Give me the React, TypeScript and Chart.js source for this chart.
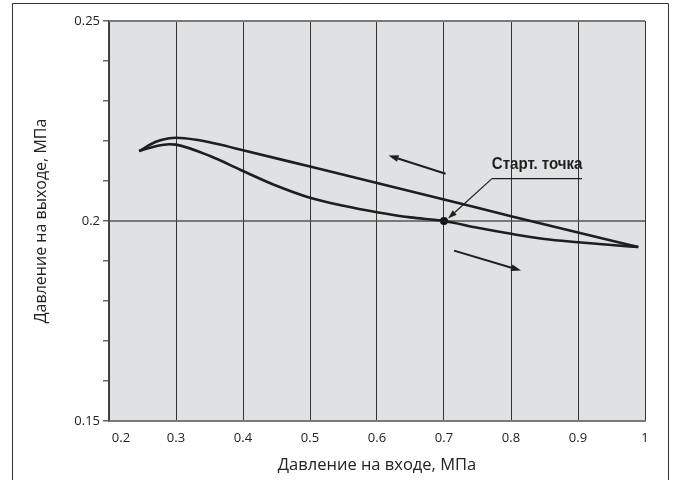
import React, { useEffect, useRef } from 'react';
import { Chart, registerables } from 'chart.js';

Chart.register(...registerables);

// Upper branch (pressure decreasing, arrow to the left)
const upperX = [0.245, 0.27, 0.29, 0.30, 0.33, 0.36, 0.40, 0.50, 0.60, 0.70, 0.80, 0.90, 0.99];
const upperY = [0.2175, 0.2198, 0.2207, 0.2208, 0.2203, 0.2193, 0.2177, 0.2136, 0.2095, 0.2054, 0.2012, 0.1971, 0.1935];

// Lower branch (pressure increasing, arrow to the right)
const lowerX = [0.245, 0.27, 0.29, 0.30, 0.35, 0.40, 0.45, 0.50, 0.55, 0.60, 0.65, 0.70, 0.75, 0.80, 0.85, 0.90, 0.95, 0.99];
const lowerY = [0.2175, 0.2187, 0.2192, 0.2191, 0.2163, 0.2125, 0.2088, 0.2058, 0.2038, 0.2022, 0.2009, 0.2000, 0.1983, 0.1968, 0.1955, 0.1947, 0.1940, 0.1935];

// Start point
const startX = [0.7];
const startY = [0.2];

// Axis ticks
const xTickValues = [0.2, 0.3, 0.4, 0.5, 0.6, 0.7, 0.8, 0.9, 1.0];
const xTickLabels = ['0.2', '0.3', '0.4', '0.5', '0.6', '0.7', '0.8', '0.9', '1'];
const yTickValues = [0.15, 0.2, 0.25];
const yTickLabels = ['0.15', '0.2', '0.25'];
const yRefLine = 0.2;

// Direction arrows [x0, y0, x1, y1] (data units, arrowhead at x1,y1)
const arrowUpper = [0.7024, 0.2118, 0.6172, 0.2164];
const arrowLower = [0.715, 0.1926, 0.815, 0.1876];
// Leader for annotation: underline start/end, then to the point
const leaderLine = [0.7716, 0.2106, 0.706, 0.2006];
const underline = [0.7716, 0.906, 0.2106];
const annotationText = 'Старт. точка';
const annotationPos = [0.839, 0.2140];

const xTitle = 'Давление на входе, МПа';
const yTitle = 'Давление на выходе, МПа';

const toXY = (xs: number[], ys: number[]) => xs.map((x, i) => ({ x, y: ys[i] }));

const FONT = '"Open Sans", "DejaVu Sans", sans-serif';

function drawArrow(ctx: CanvasRenderingContext2D, x0: number, y0: number, x1: number, y1: number, lw: number, headLen: number, headW: number) {
  const ang = Math.atan2(y1 - y0, x1 - x0);
  const bx = x1 - headLen * Math.cos(ang);
  const by = y1 - headLen * Math.sin(ang);
  ctx.lineWidth = lw;
  ctx.beginPath();
  ctx.moveTo(x0, y0);
  ctx.lineTo(bx, by);
  ctx.stroke();
  ctx.beginPath();
  ctx.moveTo(x1, y1);
  ctx.lineTo(bx + headW * Math.sin(ang), by - headW * Math.cos(ang));
  ctx.lineTo(bx - headW * Math.sin(ang), by + headW * Math.cos(ang));
  ctx.closePath();
  ctx.fill();
}

const decorPlugin = {
  id: 'decor',
  beforeDraw(chart: any) {
    const { ctx, chartArea: a } = chart;
    ctx.save();
    ctx.fillStyle = '#e0e1e2';
    ctx.fillRect(a.left, a.top, a.right - a.left, a.bottom - a.top);
    ctx.restore();
  },
  beforeDatasetsDraw(chart: any) {
    const { ctx, chartArea: a, scales } = chart;
    const y = scales.y.getPixelForValue(yRefLine);
    ctx.save();
    ctx.strokeStyle = '#555';
    ctx.lineWidth = 1.5;
    ctx.beginPath();
    ctx.moveTo(a.left, y);
    ctx.lineTo(a.right, y);
    ctx.stroke();
    ctx.restore();
  },
  afterDatasetsDraw(chart: any) {
    const { ctx, chartArea: a, scales } = chart;
    const xs = scales.x;
    const ys = scales.y;
    const px = (v: number) => xs.getPixelForValue(v);
    const py = (v: number) => ys.getPixelForValue(v);
    ctx.save();
    // top border of plot
    ctx.strokeStyle = '#7a7a7a';
    ctx.lineWidth = 2;
    ctx.beginPath();
    ctx.moveTo(a.left, a.top);
    ctx.lineTo(a.right, a.top);
    ctx.stroke();

    ctx.strokeStyle = '#1e1e1e';
    ctx.fillStyle = '#1e1e1e';
    drawArrow(ctx, px(arrowUpper[0]), py(arrowUpper[1]), px(arrowUpper[2]), py(arrowUpper[3]), 2, 10, 3.5);
    drawArrow(ctx, px(arrowLower[0]), py(arrowLower[1]), px(arrowLower[2]), py(arrowLower[3]), 2, 10, 3.5);

    // underline + leader
    ctx.lineWidth = 1.2;
    ctx.beginPath();
    ctx.moveTo(px(underline[1]), py(underline[2]));
    ctx.lineTo(px(underline[0]), py(underline[2]));
    ctx.stroke();
    drawArrow(ctx, px(leaderLine[0]), py(leaderLine[1]), px(leaderLine[2]), py(leaderLine[3]), 1.2, 9, 3);

    // annotation text (condensed bold)
    ctx.font = 'bold 16px "Liberation Sans Narrow", "Arial Narrow", "Liberation Sans", sans-serif';
    ctx.textAlign = 'center';
    ctx.textBaseline = 'middle';
    ctx.save();
    ctx.translate(px(annotationPos[0]), py(annotationPos[1]));
    ctx.scale(0.94, 1);
    ctx.fillText(annotationText, 0, 0);
    ctx.restore();

    // x tick labels
    ctx.font = '13px ' + FONT;
    ctx.fillStyle = '#222';
    ctx.textAlign = 'center';
    ctx.textBaseline = 'middle';
    xTickValues.forEach((v, i) => {
      const off = i === 0 ? 12 : 0;
      ctx.fillText(xTickLabels[i], px(v) + off, a.bottom + 17);
    });
    ctx.restore();
  },
  afterDraw(chart: any) {
    const { ctx } = chart;
    ctx.save();
    ctx.strokeStyle = '#333';
    ctx.lineWidth = 1;
    ctx.beginPath();
    ctx.moveTo(12.5, 480);
    ctx.lineTo(12.5, 3.5);
    ctx.lineTo(668.5, 3.5);
    ctx.lineTo(668.5, 480);
    ctx.stroke();
    ctx.restore();
  },
};

export default function App() {
  const ref = useRef<HTMLCanvasElement | null>(null);
  useEffect(() => {
    if (!ref.current) return;
    const near = (a: number, b: number) => Math.abs(a - b) < 1e-6;
    const chart = new Chart(ref.current, {
      type: 'line',
      data: {
        datasets: [
          {
            data: toXY(upperX, upperY),
            borderColor: '#1e1e1e',
            borderWidth: 2.6,
            pointRadius: 0,
            cubicInterpolationMode: 'monotone',
            fill: false,
          },
          {
            data: toXY(lowerX, lowerY),
            borderColor: '#1e1e1e',
            borderWidth: 2.6,
            pointRadius: 0,
            cubicInterpolationMode: 'monotone',
            fill: false,
          },
          {
            data: toXY(startX, startY),
            borderColor: '#111',
            backgroundColor: '#111',
            showLine: false,
            pointRadius: 4,
            pointBorderWidth: 0,
          },
        ],
      },
      options: {
        animation: false,
        responsive: false,
        maintainAspectRatio: false,
        events: [],
        layout: { padding: { left: 0, top: 21, right: 28, bottom: 0 } },
        plugins: { legend: { display: false }, tooltip: { enabled: false } },
        scales: {
          x: {
            type: 'linear',
            min: 0.2,
            max: 1.0,
            ticks: { stepSize: 0.1, display: false },
            grid: { color: '#333', lineWidth: 1, drawTicks: false },
            border: { color: '#7a7a7a', width: 2 },
            title: {
              display: true,
              text: xTitle,
              font: { family: FONT, size: 16.5 },
              color: '#222',
              padding: { top: 0, bottom: 5 },
            },
            afterFit: (s: any) => { s.height = 59; },
          },
          y: {
            type: 'linear',
            min: 0.15,
            max: 0.25,
            ticks: {
              stepSize: 0.01,
              padding: 3,
              autoSkip: false,
              color: '#222',
              font: { family: FONT, size: 13 },
              callback: (v: any) => {
                const idx = yTickValues.findIndex((t) => near(t, Number(v)));
                return idx >= 0 ? yTickLabels[idx] : '';
              },
            },
            grid: {
              drawOnChartArea: false,
              color: '#666',
              tickColor: '#666',
              tickLength: 6,
              lineWidth: 1.5,
            },
            border: { color: '#444', width: 1.5 },
            title: {
              display: true,
              text: yTitle,
              font: { family: FONT, size: 16 },
              color: '#222',
              padding: { top: 32, bottom: 0 },
            },
            afterFit: (s: any) => { s.width = 109; },
          },
        },
      },
      plugins: [decorPlugin],
    } as any);
    return () => chart.destroy();
  }, []);
  return (
    <div style={{ position: 'absolute', left: 0, top: 0, width: 673, height: 480, background: '#fff' }}>
      <canvas ref={ref} width={673} height={480} style={{ display: 'block', width: 673, height: 480 }} />
    </div>
  );
}
